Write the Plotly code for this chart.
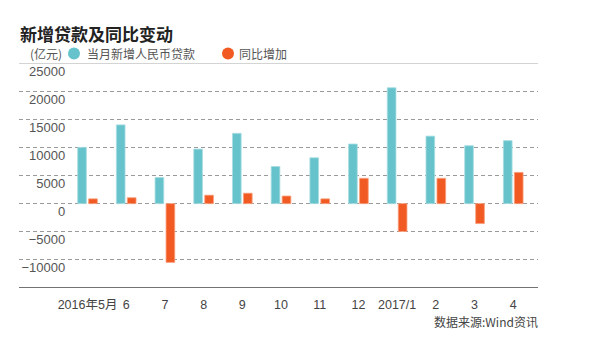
import plotly.graph_objects as go

categories = ["2016年5月", "6", "7", "8", "9", "10", "11", "12", "2017/1", "2", "3", "4"]
new_loans = [10000, 14000, 4650, 9700, 12500, 6600, 8150, 10600, 20600, 12000, 10300, 11200]
yoy_change = [850, 1050, -10450, 1500, 1850, 1350, 850, 4500, -4950, 4500, -3550, 5550]
y_ticks = [-10000, -5000, 0, 5000, 10000, 15000, 20000, 25000]
y_tick_text = ["−10000", "−5000", "0", "5000", "10000", "15000", "20000", "25000"]

CYAN = "#67c3cb"
ORANGE = "#f15a22"
FONT = "Liberation Sans, Arial, Noto Sans CJK SC, sans-serif"

x_idx = list(range(len(categories)))

fig = go.Figure()
fig.add_trace(go.Bar(x=x_idx, y=new_loans, name="当月新增人民币贷款",
                     marker=dict(color=CYAN, line=dict(color="#a8dde2", width=0.8))))
fig.add_trace(go.Bar(x=x_idx, y=yoy_change, name="同比增加",
                     marker=dict(color=ORANGE, line=dict(color="#f7a07e", width=0.8))))

L, R, T, B = 19, 62, 62.5, 64.7
PW = 600 - L - R
PH = 353 - T - B

fig.update_layout(
    width=600, height=353,
    margin=dict(l=L, r=R, t=T, b=B),
    paper_bgcolor="white", plot_bgcolor="white",
    barmode="group", bargap=0.432, bargroupgap=0.21,
    showlegend=False,
    font=dict(family=FONT, color="#555555"),
    xaxis=dict(
        range=[-1.77, 11.64], tickmode="array", tickvals=x_idx, ticktext=categories,
        showgrid=False, zeroline=False, showline=False, ticks="",
        ticklabelstandoff=7,
        tickfont=dict(size=12.5, color="#444444"),
    ),
    yaxis=dict(
        range=[-15000, 25000], tickmode="array", tickvals=y_ticks, ticktext=y_tick_text,
        anchor="free", position=0.091, side="left",
        showgrid=True, gridcolor="#9a9a9a", griddash="4px,3px", gridwidth=1,
        zeroline=False, showline=False, ticks="",
        ticklabelshift=8, ticklabelstandoff=1,
        tickfont=dict(size=13, color="#555555"),
    ),
)

# top and bottom frame lines
fig.add_shape(type="line", xref="paper", yref="y", x0=0, x1=1, y0=25000, y1=25000,
              line=dict(color="#aaaaaa", width=1.2))
fig.add_shape(type="line", xref="paper", yref="y", x0=0, x1=1, y0=-15000, y1=-15000,
              line=dict(color="#444444", width=1.4))

# legend dots
def px_x(x):
    return (x - L) / PW

def px_y(y):
    return 1 + (T - y) / PH

for cx, col in [(74, CYAN), (228, ORANGE)]:
    fig.add_shape(type="circle", xref="paper", yref="paper",
                  xsizemode="pixel", ysizemode="pixel",
                  xanchor=px_x(cx), yanchor=px_y(53),
                  x0=-6, x1=6, y0=-6, y1=6,
                  fillcolor=col, line=dict(width=0))

# Title
fig.add_annotation(text="<b>新增贷款及同比变动</b>", xref="paper", yref="paper",
                   x=0, y=1, xshift=-1, yshift=30, xanchor="left", yanchor="middle",
                   showarrow=False, font=dict(size=17, color="#222222", family="Noto Sans CJK SC"))
# Unit + legend text
fig.add_annotation(text="(亿元)", xref="paper", yref="paper", x=0, y=1, xshift=9, yshift=10,
                   xanchor="left", yanchor="middle", showarrow=False,
                   font=dict(size=12, color="#555555", family="Noto Sans CJK SC"))
fig.add_annotation(text="当月新增人民币贷款", xref="paper", yref="paper", x=0, y=1, xshift=66, yshift=10,
                   xanchor="left", yanchor="middle", showarrow=False,
                   font=dict(size=12, color="#555555", family="Noto Sans CJK SC"))
fig.add_annotation(text="同比增加", xref="paper", yref="paper", x=0, y=1, xshift=218, yshift=10,
                   xanchor="left", yanchor="middle", showarrow=False,
                   font=dict(size=12, color="#555555", family="Noto Sans CJK SC"))
# Source
fig.add_annotation(text="数据来源:Wind资讯", xref="paper", yref="paper", x=1, y=0,
                   xshift=2, yshift=-33, xanchor="right", yanchor="middle", showarrow=False,
                   font=dict(size=12, color="#444444", family="Noto Sans CJK SC"))

fig.write_html("out.html")
